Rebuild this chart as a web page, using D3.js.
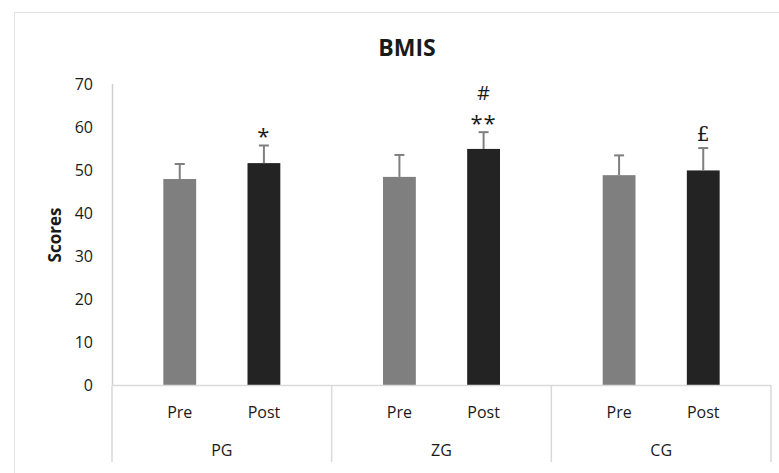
<!DOCTYPE html>
<html>
<head>
<meta charset="utf-8">
<script src="https://cdn.jsdelivr.net/npm/d3@7"></script>
<style>
  body { margin: 0; background: #fff; }
  text { font-family: "Open Sans", "Noto Sans", sans-serif; fill: #1a1a1a; }
</style>
</head>
<body>
<div id="chart"></div>
<script>
var W = 779, H = 473;
var margin = {top: 84, right: 8, bottom: 87, left: 112};

// data
var groups = ["PG", "ZG", "CG"];
var phases = ["Pre", "Post"];
var means  = [[47.9, 51.6], [48.4, 54.9], [48.8, 49.9]];
var errors = [[3.5, 4.1], [5.1, 3.9], [4.6, 5.2]];
var marks  = [[[], ["*"]], [[], ["**", "#"]], [[], ["£"]]];
var yTicks = [0, 10, 20, 30, 40, 50, 60, 70];

var colors = {Pre: "#7f7f7f", Post: "#232323"};

var svg = d3.select("#chart").append("svg")
    .attr("width", W).attr("height", H);

// chart area border (Excel style, clipped by the picture)
svg.append("rect")
    .attr("x", 14.5).attr("y", 12.5)
    .attr("width", W + 20).attr("height", H + 20)
    .attr("fill", "none").attr("stroke", "#e3e3e3");

var x0 = d3.scaleBand().domain(groups)
    .range([margin.left, W - margin.right]);
var x1 = d3.scaleBand().domain(phases)
    .range([0, x0.bandwidth()]).padding(0.61);
var y = d3.scaleLinear().domain([0, 70])
    .range([H - margin.bottom - 1, margin.top]);

// flatten into bar rows
var bars = [];
groups.forEach(function(g, i) {
  phases.forEach(function(p, j) {
    bars.push({group: g, phase: p, value: means[i][j], err: errors[i][j], marks: marks[i][j]});
  });
});

// title
svg.append("text")
    .attr("x", 407).attr("y", 56)
    .attr("text-anchor", "middle")
    .style("font-size", "23px").style("font-weight", "bold")
    .text("BMIS");

// y axis label
svg.append("text")
    .attr("transform", "translate(61,235) rotate(-90)")
    .attr("text-anchor", "middle")
    .style("font-size", "17px").style("font-weight", "bold")
    .text("Scores");

// y tick labels
svg.append("g").selectAll("text")
    .data(yTicks).enter().append("text")
    .attr("x", 93)
    .attr("y", function(d) { return y(d); })
    .attr("dy", "0.35em")
    .attr("text-anchor", "end")
    .style("font-size", "16px")
    .text(function(d) { return d; });

// y axis line
svg.append("line")
    .attr("x1", margin.left + 0.5).attr("x2", margin.left + 0.5)
    .attr("y1", y(70)).attr("y2", y(0))
    .attr("stroke", "#cfcfcf").attr("stroke-width", 1.5);

// bars
var barG = svg.append("g").selectAll("g")
    .data(bars).enter().append("g")
    .attr("transform", function(d) { return "translate(" + (x0(d.group) + x1(d.phase)) + ",0)"; });

barG.append("rect")
    .attr("x", 0)
    .attr("width", x1.bandwidth())
    .attr("y", function(d) { return y(d.value); })
    .attr("height", function(d) { return y(0) - y(d.value); })
    .attr("fill", function(d) { return colors[d.phase]; });

// error bars (upper only)
var cx = x1.bandwidth() / 2;
barG.append("line")
    .attr("x1", cx).attr("x2", cx)
    .attr("y1", function(d) { return y(d.value); })
    .attr("y2", function(d) { return y(d.value + d.err); })
    .attr("stroke", "#7f7f7f").attr("stroke-width", 2);
barG.append("line")
    .attr("x1", cx - 5).attr("x2", cx + 5)
    .attr("y1", function(d) { return y(d.value + d.err); })
    .attr("y2", function(d) { return y(d.value + d.err); })
    .attr("stroke", "#7f7f7f").attr("stroke-width", 2);

// significance marks
barG.each(function(d) {
  var g = d3.select(this);
  var top = y(d.value + d.err);
  d.marks.forEach(function(m, k) {
    var isStar = m.indexOf("*") >= 0;
    var isPound = m === "£";
    g.append("text")
        .attr("x", cx)
        .attr("y", isStar ? top - 1 : top - 7 - k * 25)
        .attr("text-anchor", "middle")
        .style("font-family", isPound ? "'DejaVu Serif', serif" : null)
        .style("font-size", isStar ? "22px" : "20px")
        .style("letter-spacing", isStar ? "1px" : "0px")
        .text(m);
  });
});

// category axis: baseline and group separators
var axisY = y(0) + 0.5;
svg.append("line")
    .attr("x1", margin.left).attr("x2", W - margin.right)
    .attr("y1", axisY).attr("y2", axisY)
    .attr("stroke", "#d9d9d9").attr("stroke-width", 1.5);

var seps = groups.map(function(g) { return x0(g); }).concat([x0.range()[1]]);
svg.append("g").selectAll("line")
    .data(seps).enter().append("line")
    .attr("x1", function(d) { return d; }).attr("x2", function(d) { return d; })
    .attr("y1", axisY).attr("y2", 462)
    .attr("stroke", "#d9d9d9").attr("stroke-width", 1.5);

// phase labels
svg.append("g").selectAll("text")
    .data(bars).enter().append("text")
    .attr("x", function(d) { return x0(d.group) + x1(d.phase) + cx; })
    .attr("y", 412).attr("dy", "0.35em")
    .attr("text-anchor", "middle")
    .style("font-size", "16px")
    .text(function(d) { return d.phase; });

// group labels
svg.append("g").selectAll("text")
    .data(groups).enter().append("text")
    .attr("x", function(d) { return x0(d) + x0.bandwidth() / 2; })
    .attr("y", 450).attr("dy", "0.35em")
    .attr("text-anchor", "middle")
    .style("font-size", "16px")
    .text(function(d) { return d; });
</script>
</body>
</html>
